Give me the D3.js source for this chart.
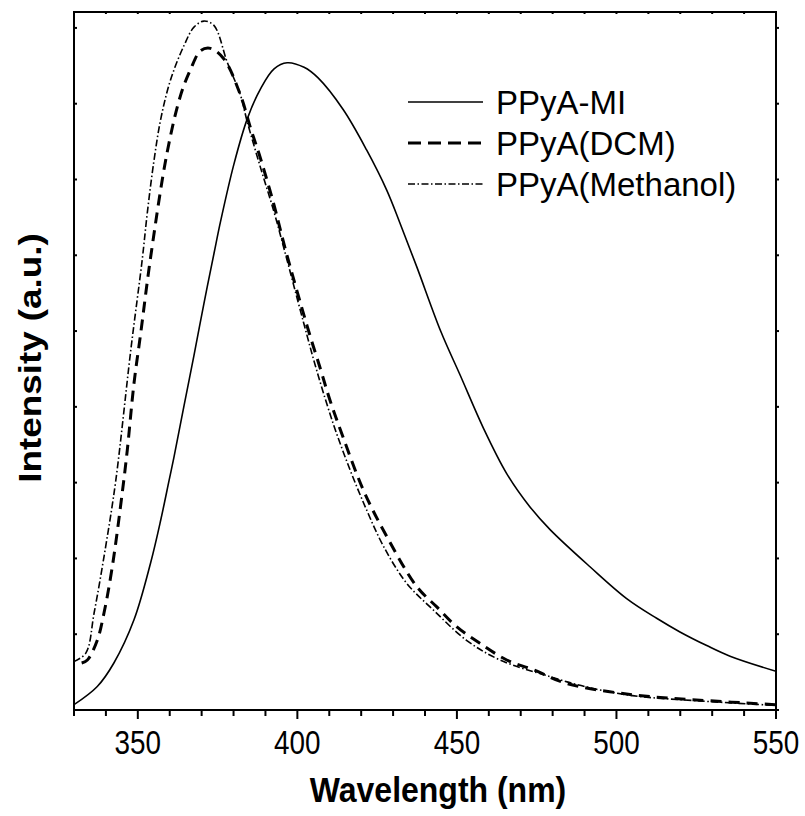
<!DOCTYPE html>
<html>
<head>
<meta charset="utf-8">
<script src="https://cdn.jsdelivr.net/npm/d3@7"></script>
<style>
  body { margin: 0; background: #fff; }
  text { font-family: Arial, "Liberation Sans", sans-serif; }
</style>
</head>
<body>
<svg id="chart"></svg>
<script>
// wavelength (nm) and intensity (a.u.)
const miWave = [330, 337.3, 342.5, 348.8, 354, 357.2, 359.8, 361.3, 364.5, 367.6, 370.7, 373.9, 376, 380.1, 384.3, 388.5, 392.7, 396.8, 402.1, 406.5, 414.4, 421.7, 428, 432.2, 437.4, 445, 451, 458.3, 465.6, 472.9, 479.2, 491.7, 503.2, 512.6, 519.9, 528.3, 535.6, 550];
const miInt = [0.07, 0.31, 0.62, 1.19, 1.94, 2.51, 3.03, 3.33, 4.02, 4.68, 5.36, 6.03, 6.46, 7.20, 7.80, 8.20, 8.46, 8.54, 8.48, 8.34, 7.92, 7.39, 6.86, 6.42, 5.85, 4.99, 4.42, 3.72, 3.12, 2.68, 2.38, 1.89, 1.47, 1.21, 1.03, 0.85, 0.71, 0.51];

const dcmWave = [332.4, 334.2, 337.3, 339.4, 342, 345.1, 346.7, 348.8, 350.9, 354, 359.2, 363.4, 366.6, 369.7, 372.8, 377, 382.2, 385.4, 388.5, 392.7, 396.3, 403.1, 407.3, 410.2, 414.4, 420.7, 428, 437.4, 443.7, 449.9, 457.2, 465.6, 474, 484.4, 505.3, 526.2, 550];
const dcmInt = [0.62, 0.66, 0.92, 1.28, 1.89, 2.86, 3.43, 4.31, 4.97, 5.97, 7.36, 8.11, 8.46, 8.70, 8.73, 8.59, 8.11, 7.67, 7.27, 6.66, 6.07, 5.06, 4.49, 4.09, 3.59, 2.90, 2.29, 1.63, 1.36, 1.10, 0.88, 0.66, 0.53, 0.35, 0.20, 0.13, 0.07];

const meWave = [330, 333.7, 336.3, 339.9, 343.1, 347.8, 351.4, 353, 355, 357.2, 360.3, 364.5, 367.6, 370.7, 373.9, 378, 382.2, 384.3, 388.5, 392.7, 395.8, 401.9, 406, 411.3, 416.5, 421.7, 427, 434.3, 442.6, 453, 463.5, 479.2, 490, 505, 526, 550];
const meInt = [0.64, 0.75, 1.28, 2.15, 3.03, 4.75, 5.95, 6.57, 7.23, 7.80, 8.32, 8.77, 9.01, 9.09, 9.03, 8.55, 8.11, 7.76, 7.15, 6.57, 6.09, 5.12, 4.49, 3.77, 3.17, 2.64, 2.16, 1.67, 1.32, 0.92, 0.66, 0.44, 0.31, 0.19, 0.12, 0.06];

const seriesNames = ["PPyA-MI", "PPyA(DCM)", "PPyA(Methanol)"];
const xTickLabels = [350, 400, 450, 500, 550];

const width = 805;
const height = 816;
const plotLeft = 74, plotRight = 776, plotTop = 12, plotBottom = 710;

const svg = d3.select("#chart")
    .attr("width", width)
    .attr("height", height);

const x = d3.scaleLinear().domain([330, 550]).range([plotLeft, plotRight]);
const y = d3.scaleLinear().domain([0, 9.21]).range([plotBottom, plotTop]);

// clip curves to the frame
svg.append("clipPath").attr("id", "plot")
    .append("rect")
    .attr("x", plotLeft).attr("y", plotTop)
    .attr("width", plotRight - plotLeft).attr("height", plotBottom - plotTop);

const line = d3.line()
    .x(d => x(d[0]))
    .y(d => y(d[1]))
    .curve(d3.curveCatmullRom);

const styles = [
    { width: 1.6, dash: null },
    { width: 3, dash: "11,7" },
    { width: 1.6, dash: "7,2.5,1.5,2.5" }
];

const series = [
    d3.zip(miWave, miInt),
    d3.zip(dcmWave, dcmInt),
    d3.zip(meWave, meInt)
];

const plot = svg.append("g").attr("clip-path", "url(#plot)");
series.forEach((s, i) => {
    plot.append("path")
        .datum(s)
        .attr("d", line)
        .attr("fill", "none")
        .attr("stroke", "#000")
        .attr("stroke-width", styles[i].width)
        .attr("stroke-dasharray", styles[i].dash);
});

// bottom axis: minor ticks every 10, labels every 50
const minor = d3.range(330, 551, 10);
svg.append("g")
    .selectAll("line")
    .data(minor)
    .enter()
    .append("line")
    .attr("x1", d => x(d)).attr("x2", d => x(d))
    .attr("y1", plotBottom)
    .attr("y2", d => plotBottom + (d % 50 === 0 ? 9 : 6))
    .attr("stroke", "#000")
    .attr("stroke-width", 2);

// top axis small ticks
svg.append("g")
    .selectAll("line")
    .data(minor)
    .enter()
    .append("line")
    .attr("x1", d => x(d)).attr("x2", d => x(d))
    .attr("y1", plotTop).attr("y2", plotTop + 2)
    .attr("stroke", "#000")
    .attr("stroke-width", 2);

// left and right axis small ticks
const yTicks = d3.range(0, 10, 1);
svg.append("g")
    .selectAll("line")
    .data(yTicks)
    .enter()
    .append("line")
    .attr("x1", plotLeft).attr("x2", plotLeft + 3)
    .attr("y1", d => y(d)).attr("y2", d => y(d))
    .attr("stroke", "#000")
    .attr("stroke-width", 2);
svg.append("g")
    .selectAll("line")
    .data(yTicks)
    .enter()
    .append("line")
    .attr("x1", plotRight).attr("x2", plotRight + 3)
    .attr("y1", d => y(d)).attr("y2", d => y(d))
    .attr("stroke", "#000")
    .attr("stroke-width", 2);

// tick labels look a bit condensed in the original
svg.append("g")
    .selectAll("text")
    .data(xTickLabels)
    .enter()
    .append("text")
    .attr("transform", d => `translate(${x(d)},754) scale(0.82,1)`)
    .attr("text-anchor", "middle")
    .attr("font-size", 34)
    .text(d => d);

// frame
svg.append("rect")
    .attr("x", plotLeft).attr("y", plotTop)
    .attr("width", plotRight - plotLeft).attr("height", plotBottom - plotTop)
    .attr("fill", "none")
    .attr("stroke", "#000")
    .attr("stroke-width", 2);

// axis titles
svg.append("text")
    .attr("transform", "translate(438,802) scale(1,1.1)")
    .attr("text-anchor", "middle")
    .attr("font-size", 32)
    .attr("font-weight", "bold")
    .text("Wavelength (nm)");

svg.append("text")
    .attr("transform", "translate(41,358) rotate(-90) scale(1.15,1)")
    .attr("text-anchor", "middle")
    .attr("font-size", 32)
    .attr("font-weight", "bold")
    .text("Intensity (a.u.)");

// legend
const legend = svg.append("g");
seriesNames.forEach((name, i) => {
    const ly = 102 + i * 41;
    legend.append("line")
        .attr("x1", 408).attr("x2", 483)
        .attr("y1", ly).attr("y2", ly)
        .attr("stroke", "#000")
        .attr("stroke-width", styles[i].width)
        .attr("stroke-dasharray", i === 1 ? "13,7" : styles[i].dash);
    legend.append("text")
        .attr("x", 496)
        .attr("y", ly + 12)
        .attr("font-size", 33)
        .text(name);
});
</script>
</body>
</html>
